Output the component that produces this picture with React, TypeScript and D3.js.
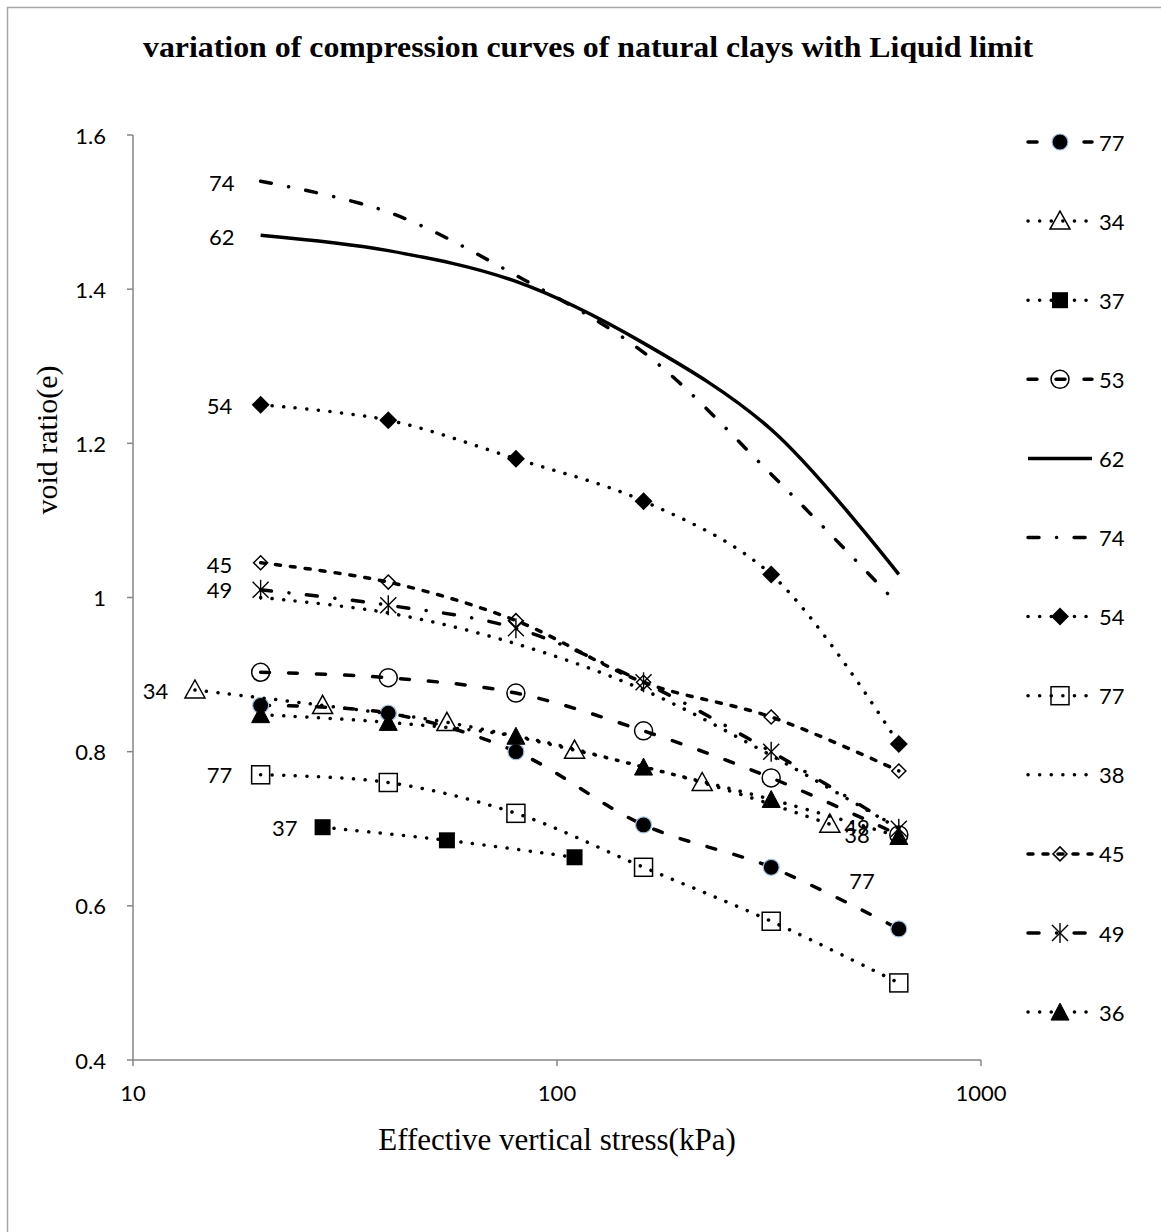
import React from 'react';
import * as d3 from 'd3';

// ---------- data ----------
const stressFull = [20, 40, 80, 160, 320, 640];
const stressHalf = [14, 28, 55, 110, 220, 440];
const stress37 = [28, 55, 110];

const e77circle = [0.86, 0.85, 0.8, 0.705, 0.65, 0.57];
const e34 = [0.88, 0.86, 0.838, 0.802, 0.76, 0.706];
const e37 = [0.702, 0.685, 0.663];
const e53 = [0.903, 0.896, 0.876, 0.827, 0.766, 0.692];
const e62 = [1.47, 1.45, 1.41, 1.33, 1.218, 1.03];
const e74 = [1.54, 1.5, 1.418, 1.318, 1.16, 0.99];
const e54 = [1.25, 1.23, 1.18, 1.125, 1.03, 0.81];
const e77square = [0.77, 0.76, 0.72, 0.65, 0.58, 0.5];
const e38 = [1.0, 0.98, 0.94, 0.88, 0.795, 0.7];
const e45 = [1.045, 1.02, 0.97, 0.89, 0.845, 0.775];
const e49 = [1.01, 0.99, 0.96, 0.89, 0.8, 0.7];
const e36 = [0.848, 0.838, 0.82, 0.78, 0.738, 0.69];

const legendNames = ['77', '34', '37', '53', '62', '74', '54', '77', '38', '45', '49', '36'];
const yTicks = [0.4, 0.6, 0.8, 1.0, 1.2, 1.4, 1.6];
const xTicks = [10, 100, 1000];

// in-plot labels: [text, stress, e]
const curveLabels: [string, number, number][] = [
  ['74', 16.2, 1.538],
  ['62', 16.2, 1.468],
  ['54', 16.0, 1.249],
  ['45', 16.0, 1.043],
  ['49', 16.0, 1.01],
  ['34', 11.3, 0.88],
  ['77', 16.0, 0.77],
  ['37', 22.8, 0.701],
  ['77', 524, 0.633],
  ['49', 510, 0.703],
  ['38', 510, 0.693],
];

type Style = 'dash' | 'dot' | 'dashdot' | 'shortdash' | 'solid';
type Marker = 'circleFill' | 'triOpen' | 'squareFill' | 'circleOpen' | 'diamondFill' | 'squareOpen' | 'diamondOpen' | 'star' | 'triFill' | 'none';

const seriesStyles: Style[] = ['dash', 'dot', 'dot', 'dash', 'solid', 'dashdot', 'dot', 'dot', 'dot', 'shortdash', 'dashdot', 'dot'];
const seriesMarkers: Marker[] = ['circleFill', 'triOpen', 'squareFill', 'circleOpen', 'none', 'none', 'diamondFill', 'squareOpen', 'none', 'diamondOpen', 'star', 'triFill'];
const seriesX = [stressFull, stressHalf, stress37, stressFull, stressFull, stressFull, stressFull, stressFull, stressFull, stressFull, stressFull, stressFull];
const seriesY = [e77circle, e34, e37, e53, e62, e74, e54, e77square, e38, e45, e49, e36];

// ---------- layout ----------
const W = 1161;
const H = 1232;
const x = d3.scaleLog().domain([10, 1000]).range([133, 981]);
const y = d3.scaleLinear().domain([0.4, 1.6]).range([1060, 135]);

const SANS = 'Lato, Carlito, Calibri, "Liberation Sans", sans-serif';
const SERIF = '"Liberation Serif", "Times New Roman", serif';

const dashFor = (s: Style): string | undefined => {
  switch (s) {
    case 'dash': return '9 19';
    case 'dot': return '0.1 11.5';
    case 'dashdot': return '11 17.5 0.1 17.5';
    case 'shortdash': return '5 10';
    default: return undefined;
  }
};

function MarkerShape({ m, cx, cy }: { m: Marker; cx: number; cy: number }) {
  switch (m) {
    case 'circleFill':
      return <circle cx={cx} cy={cy} r={8} fill="#000" stroke="#9dc3e6" strokeWidth={1.2} />;
    case 'circleOpen':
      return <circle cx={cx} cy={cy} r={9} fill="none" stroke="#000" strokeWidth={1.5} />;
    case 'triOpen':
      return <path d={`M${cx},${cy - 10}L${cx + 10},${cy + 8}L${cx - 10},${cy + 8}Z`} fill="none" stroke="#000" strokeWidth={1.5} />;
    case 'triFill':
      return <path d={`M${cx},${cy - 9}L${cx + 9},${cy + 8}L${cx - 9},${cy + 8}Z`} fill="#000" stroke="#000" strokeWidth={1} />;
    case 'squareFill':
      return <rect x={cx - 8} y={cy - 8} width={16} height={16} fill="#000" />;
    case 'squareOpen':
      return <rect x={cx - 9} y={cy - 9} width={18} height={18} fill="none" stroke="#000" strokeWidth={1.5} />;
    case 'diamondFill':
      return <path d={`M${cx},${cy - 9}L${cx + 9},${cy}L${cx},${cy + 9}L${cx - 9},${cy}Z`} fill="#000" />;
    case 'diamondOpen':
      return <path d={`M${cx},${cy - 7}L${cx + 7},${cy}L${cx},${cy + 7}L${cx - 7},${cy}Z`} fill="none" stroke="#000" strokeWidth={1.5} />;
    case 'star':
      return (
        <g stroke="#000" strokeWidth={1.4}>
          <line x1={cx} y1={cy - 10} x2={cx} y2={cy + 10} />
          <line x1={cx - 8} y1={cy - 8} x2={cx + 8} y2={cy + 8} />
          <line x1={cx - 8} y1={cy + 8} x2={cx + 8} y2={cy - 8} />
        </g>
      );
    default:
      return null;
  }
}

export default function App() {
  const line = d3
    .line<[number, number]>()
    .x((d) => x(d[0]))
    .y((d) => y(d[1]))
    .curve(d3.curveCatmullRom.alpha(0.5));

  const legendY = (i: number) => 142 + i * 79.1;

  return (
    <svg width={W} height={H} style={{ position: 'absolute', left: 0, top: 0, background: '#fff' }}>
      <rect x={0} y={0} width={W} height={H} fill="#fff" />
      <rect x={7.5} y={7.5} width={1300} height={1300} fill="none" stroke="#a6a6a6" strokeWidth={1.5} />

      {/* title */}
      <text x={588} y={57} textAnchor="middle" fontFamily={SERIF} fontWeight="bold" fontSize={29} textLength={890} lengthAdjust="spacingAndGlyphs">
        variation of compression curves of natural clays with Liquid limit
      </text>

      {/* axes */}
      <line x1={133} y1={y(1.6)} x2={133} y2={y(0.4)} stroke="#868686" strokeWidth={1.5} />
      <line x1={133} y1={y(0.4)} x2={981} y2={y(0.4)} stroke="#868686" strokeWidth={1.5} />
      {yTicks.map((t) => (
        <g key={t}>
          <line x1={127} x2={133} y1={y(t)} y2={y(t)} stroke="#868686" strokeWidth={1.5} />
          <text x={106} y={y(t)} textAnchor="end" dominantBaseline="central" fontFamily={SANS} fontSize={22}>
            {d3.format('')(+t.toFixed(1))}
          </text>
        </g>
      ))}
      {xTicks.map((t) => (
        <g key={t}>
          <line x1={x(t)} x2={x(t)} y1={1060} y2={1066} stroke="#868686" strokeWidth={1.5} />
          <text x={x(t)} y={1092} textAnchor="middle" dominantBaseline="central" fontFamily={SANS} fontSize={22}>
            {t}
          </text>
        </g>
      ))}

      <text x={557} y={1150} textAnchor="middle" fontFamily={SERIF} fontSize={31}>
        Effective vertical stress(kPa)
      </text>
      <text transform="translate(57,440) rotate(-90)" textAnchor="middle" fontFamily={SERIF} fontSize={30}>
        void ratio(e)
      </text>

      {/* series */}
      {seriesY.map((ys, i) => {
        const pts: [number, number][] = ys.map((v, j) => [seriesX[i][j], v]);
        const st = seriesStyles[i];
        return (
          <g key={i}>
            <path d={line(pts) || ''} fill="none" stroke="#000" strokeWidth={3.5} strokeDasharray={dashFor(st)} strokeLinecap={st === 'solid' ? 'butt' : 'round'} />
            {pts.map((p, j) => (
              <MarkerShape key={j} m={seriesMarkers[i]} cx={x(p[0])} cy={y(p[1])} />
            ))}
          </g>
        );
      })}

      {/* curve labels */}
      {curveLabels.map(([t, sx, sy], i) => (
        <text key={i} x={x(sx)} y={y(sy)} textAnchor="middle" dominantBaseline="central" fontFamily={SANS} fontSize={22}>
          {t}
        </text>
      ))}

      {/* legend */}
      {legendNames.map((n, i) => {
        const ly = legendY(i);
        const st = seriesStyles[i];
        return (
          <g key={i}>
            <line x1={1028} x2={1092} y1={ly} y2={ly} stroke="#000" strokeWidth={3.5} strokeDasharray={dashFor(st)} strokeLinecap={st === 'solid' ? 'butt' : 'round'} />
            <MarkerShape m={seriesMarkers[i]} cx={1060} cy={ly} />
            <text x={1099} y={ly} dominantBaseline="central" fontFamily={SANS} fontSize={22}>
              {n}
            </text>
          </g>
        );
      })}
    </svg>
  );
}
